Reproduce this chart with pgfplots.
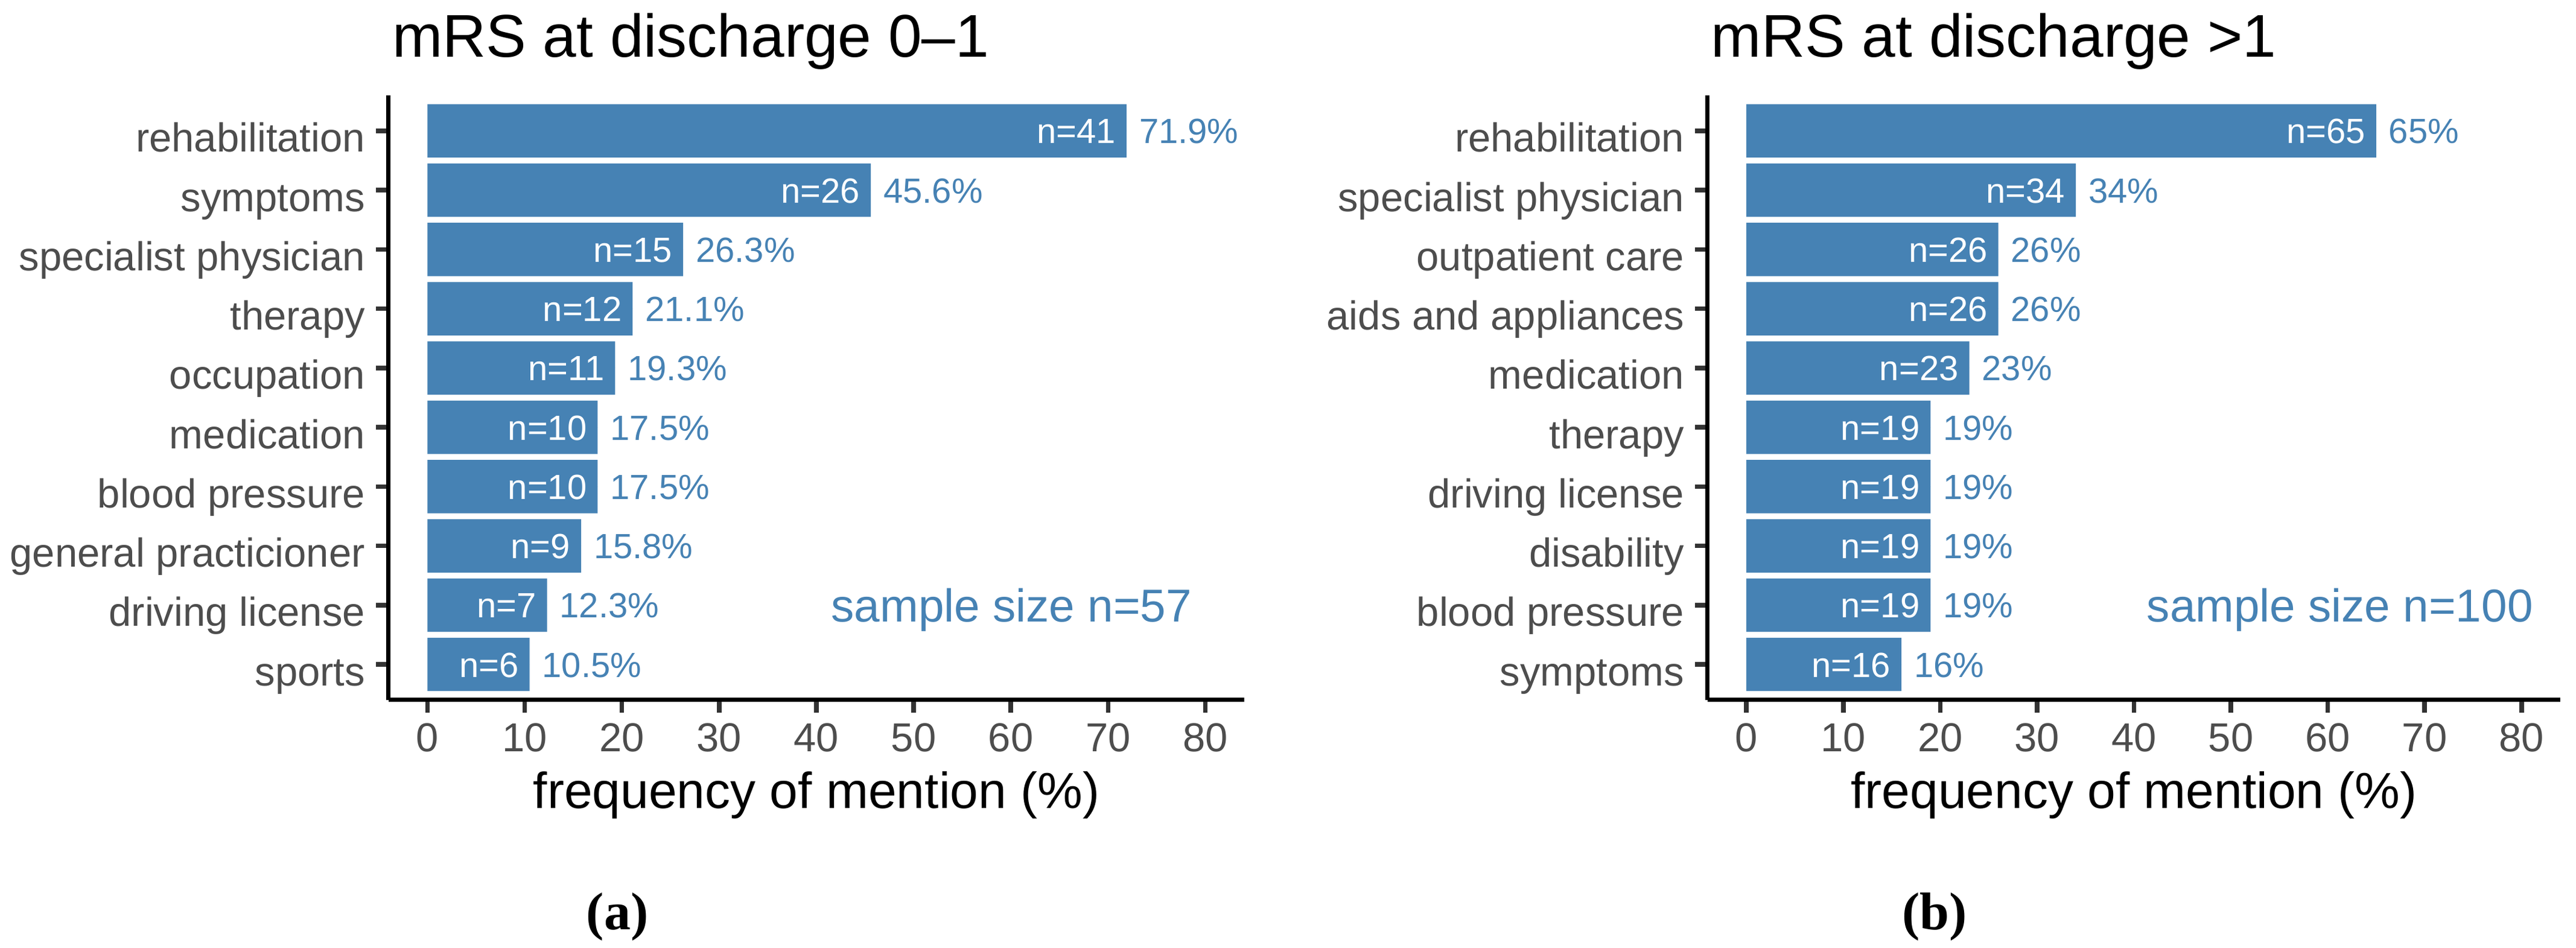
\documentclass[border=0pt]{standalone}
\usepackage{fontspec}
\setmainfont{Liberation Sans}
\newfontfamily\seriffont{Liberation Serif}
\usepackage{pgfplots}
\usepackage{pgfplotstable}
\pgfplotsset{compat=1.18}

\definecolor{steel}{RGB}{70,130,180}
\definecolor{grey30}{RGB}{77,77,77}
\definecolor{grey20}{RGB}{51,51,51}

% y = row from the bottom, pct = frequency (%), n = count, lab = printed percent
\pgfplotstableread{
y pct n lab
10 71.9 41 71.9
9 45.6 26 45.6
8 26.3 15 26.3
7 21.1 12 21.1
6 19.3 11 19.3
5 17.5 10 17.5
4 17.5 10 17.5
3 15.8 9 15.8
2 12.3 7 12.3
1 10.5 6 10.5
}\dataA

\pgfplotstableread{
y pct n lab
10 65 65 65
9 34 34 34
8 26 26 26
7 26 26 26
6 23 23 23
5 19 19 19
4 19 19 19
3 19 19 19
2 19 19 19
1 16 16 16
}\dataB

\pgfplotsset{
  mrs/.style={
    scale only axis, height=100.2pt,
    xmin=-4, xmax=84, ymin=0.4, ymax=10.6,
    xtick={0,10,...,80}, ytick={1,...,10},
    axis x line*=bottom, axis y line*=left,
    axis line style={black, line width=0.7pt},
    tick align=outside, major tick length=2.1pt,
    tick style={grey20, line width=0.75pt},
    /pgf/number format/assume math mode=true,
    ticklabel style={font=\fontsize{6.7}{8}\selectfont, text=grey30},
    xticklabel style={anchor=base, inner sep=0pt, yshift=-6.5pt},
    yticklabel style={anchor=east, inner sep=0pt, text height=0.7em, text depth=0pt, xshift=-1.6pt},
    xlabel={frequency of mention (\%)},
    xlabel style={at={(axis description cs:0.5,0)}, anchor=base, inner sep=0pt,
      yshift=-18pt, font=\fontsize{8.4}{10}\selectfont},
    every axis title/.style={at={(axis description cs:0,1)}, anchor=base west, inner sep=0pt,
      xshift=0.4pt, yshift=6.3pt, font=\fontsize{10}{12}\selectfont},
  },
  bars/.style={xbar, bar width=0.9, bar shift=0pt, fill=steel, draw=none},
  nlab/.style={only marks, mark=*, mark size=0pt, mark options={draw=none, fill=none},
    point meta=explicit symbolic, nodes near coords={n=\pgfplotspointmeta},
    every node near coord/.append style={anchor=base east, text=white, inner sep=0pt,
      xshift=-1.6pt, yshift=-2.1pt, font=\fontsize{5.8}{7}\selectfont}},
  plab/.style={only marks, mark=*, mark size=0pt, mark options={draw=none, fill=none},
    point meta=explicit symbolic, nodes near coords={\pgfplotspointmeta\%},
    every node near coord/.append style={anchor=base west, text=steel, inner sep=0pt,
      xshift=1.9pt, yshift=-2.1pt, font=\fontsize{5.8}{7}\selectfont}},
}

\begin{document}
\begin{tikzpicture}
\path[use as bounding box] (0,0) rectangle (426.9pt,157.1pt);

\begin{axis}[mrs, at={(64.4pt,41.1pt)}, anchor=south west, width=141.8pt,
  title={mRS at discharge 0–1},
  yticklabels={sports, driving license, general practicioner, blood pressure, medication,
    occupation, therapy, specialist physician, symptoms, rehabilitation}]
\addplot[bars] table[x=pct, y=y] {\dataA};
\addplot[nlab] table[x=pct, y=y, meta=n] {\dataA};
\addplot[plab] table[x=pct, y=y, meta=lab] {\dataA};
\node[anchor=base west, inner sep=0pt, text=steel, font=\fontsize{7.65}{9}\selectfont,
  yshift=-2.8pt] at (axis cs:41.4,2) {sample size n=57};
\end{axis}

\begin{axis}[mrs, at={(283.0pt,41.1pt)}, anchor=south west, width=141.3pt,
  title={mRS at discharge >1},
  yticklabels={symptoms, blood pressure, disability, driving license, therapy,
    medication, aids and appliances, outpatient care, specialist physician, rehabilitation}]
\addplot[bars] table[x=pct, y=y] {\dataB};
\addplot[nlab] table[x=pct, y=y, meta=n] {\dataB};
\addplot[plab] table[x=pct, y=y, meta=lab] {\dataB};
\node[anchor=base west, inner sep=0pt, text=steel, font=\fontsize{7.65}{9}\selectfont,
  yshift=-2.8pt] at (axis cs:41.2,2) {sample size n=100};
\end{axis}

\node[anchor=base, inner sep=0pt, font=\seriffont\fontsize{8.8}{10}\selectfont\bfseries]
  at (102.3pt,3.0pt) {(a)};
\node[anchor=base, inner sep=0pt, font=\seriffont\fontsize{8.8}{10}\selectfont\bfseries]
  at (320.6pt,3.0pt) {(b)};
\end{tikzpicture}
\end{document}
